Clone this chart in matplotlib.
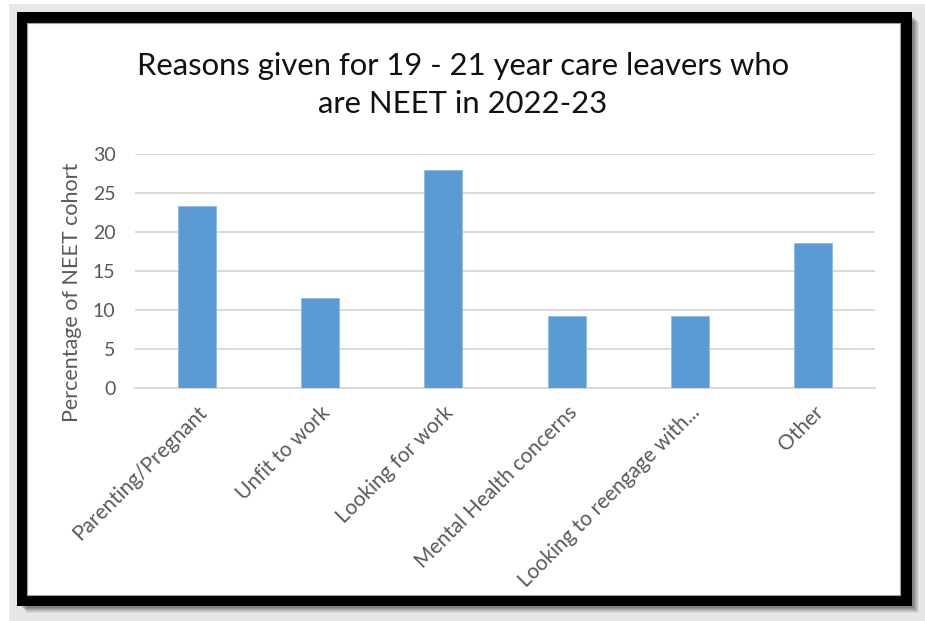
import matplotlib
matplotlib.use("Agg")
import matplotlib.pyplot as plt
from matplotlib.patches import Rectangle

categories = ["Parenting/Pregnant", "Unfit to work", "Looking for work",
              "Mental Health concerns", "Looking to reengage with...", "Other"]
values = [23.3, 11.6, 27.9, 9.3, 9.3, 18.6]
yticks = [0, 5, 10, 15, 20, 25, 30]
title = "Reasons given for 19 - 21 year care leavers who\nare NEET in 2022-23"
ylabel = "Percentage of NEET cohort"

plt.rcParams['font.family'] = ['Lato', 'DejaVu Sans']

W, H = 925, 621
fig = plt.figure(figsize=(W / 100, H / 100), dpi=100)
fig.patch.set_facecolor("white")

def px_rect(x0, y0, x1, y1, **kw):
    return Rectangle((x0 / W, 1 - y1 / H), (x1 - x0) / W, (y1 - y0) / H,
                     transform=fig.transFigure, **kw)

# outer gray background
fig.patches.append(px_rect(9, 4, 925, 621, facecolor="#e7e7e7", edgecolor="none", zorder=0))
# soft shadow
for i, a in enumerate([0.06, 0.07, 0.08, 0.09, 0.10, 0.12]):
    off = 7 - i
    fig.patches.append(px_rect(17 + off + 3, 12 + off + 3, 912 + off, 606 + off,
                               facecolor="black", alpha=a, edgecolor="none", zorder=0.5))
# black frame
fig.patches.append(px_rect(17, 12, 912, 606, facecolor="black", edgecolor="none", zorder=1))
# inner white
fig.patches.append(px_rect(27, 23, 900, 595, facecolor="white", edgecolor="#a0a0a0",
                           linewidth=0.8, zorder=1.5))

ax = fig.add_axes([135 / W, 1 - 388.3 / H, (875 - 135) / W, (388.3 - 154) / H])
ax.set_zorder(3)
ax.patch.set_alpha(0)

x = list(range(len(categories)))
ax.bar(x, values, width=0.31, color="#5b9bd5", edgecolor="#8dbbe6", linewidth=0.6, zorder=3)
ax.set_xlim(-0.5, len(categories) - 0.5)
ax.set_ylim(0, 30)
ax.set_yticks(yticks)
ax.set_yticklabels([str(v) for v in yticks], fontsize=14, color="#595959")
ax.yaxis.grid(True, color="#d9d9d9", linewidth=1.4, zorder=0)
ax.set_axisbelow(True)
for s in ["top", "right", "left"]:
    ax.spines[s].set_visible(False)
ax.spines["bottom"].set_color("#d9d9d9")
ax.spines["bottom"].set_linewidth(1.4)
ax.tick_params(axis="both", length=0)
ax.tick_params(axis="y", pad=14)
ax.set_xticks(x)
ax.set_xticklabels(categories, rotation=45, ha="right", va="top",
                   rotation_mode="anchor", fontsize=15, color="#595959")
ax.tick_params(axis="x", pad=10)

fig.text(72 / W, 1 - 292 / H, ylabel, rotation=90, ha="center", va="center",
         fontsize=15.5, color="#595959", zorder=4)

fig.text(463 / W, 1 - 85 / H, title, ha="center", va="center", fontsize=22.3,
         color="#111111", linespacing=1.4, zorder=4)

fig.savefig("out.png", dpi=100)
